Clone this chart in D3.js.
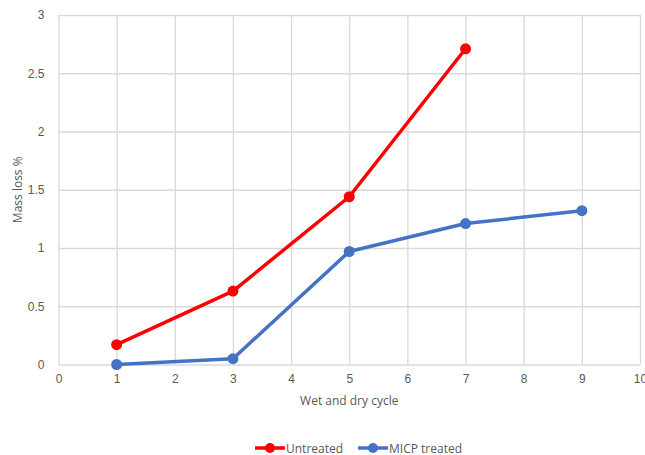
<!DOCTYPE html>
<html>
<head>
<meta charset="utf-8">
<script src="https://cdn.jsdelivr.net/npm/d3@7"></script>
<style>
  html, body { margin: 0; padding: 0; background: #fff; }
  svg { display: block; font-family: "Open Sans", "Liberation Sans", sans-serif; }
</style>
</head>
<body>
<svg id="chart" width="645" height="455"></svg>
<script>
// Wet and dry cycles and mass loss (%) per series
const untreatedCycles = [1, 3, 5, 7];
const untreatedLoss = [0.17, 0.63, 1.44, 2.71];
const micpCycles = [1, 3, 5, 7, 9];
const micpLoss = [0.0, 0.05, 0.97, 1.21, 1.32];
const xTicks = [0, 1, 2, 3, 4, 5, 6, 7, 8, 9, 10];
const yTicks = [0, 0.5, 1, 1.5, 2, 2.5, 3];
const seriesNames = ["Untreated", "MICP treated"];

const svg = d3.select("#chart");
const margin = { left: 58.5, right: 5, top: 15, bottom: 90.5 };
const W = 645, H = 455;

const x = d3.scaleLinear().domain([0, 10]).range([margin.left, W - margin.right]);
const y = d3.scaleLinear().domain([0, 3]).range([H - margin.bottom, margin.top]);

const gridColor = "#d9d9d9";
const textColor = "#595959";

// vertical gridlines
svg.append("g")
  .attr("transform", `translate(0,${y(0)})`)
  .call(d3.axisBottom(x).tickValues(xTicks).tickSize(-(y(0) - y(3))).tickFormat(d => d).tickPadding(10))
  .call(g => g.select(".domain").remove())
  .call(g => g.selectAll(".tick line").attr("stroke", gridColor).attr("stroke-width", 1.3))
  .call(g => g.selectAll(".tick text").attr("fill", textColor).attr("font-size", 12));

// horizontal gridlines
svg.append("g")
  .attr("transform", `translate(${x(0)},0)`)
  .call(d3.axisLeft(y).tickValues(yTicks).tickSize(-(x(10) - x(0))).tickFormat(d => d).tickPadding(14))
  .call(g => g.select(".domain").remove())
  .call(g => g.selectAll(".tick line").attr("stroke", gridColor).attr("stroke-width", 1.3))
  .call(g => g.selectAll(".tick text").attr("fill", textColor).attr("font-size", 12));

// axis titles
svg.append("text")
  .attr("x", (x(0) + x(10)) / 2)
  .attr("y", 405)
  .attr("text-anchor", "middle")
  .attr("fill", textColor)
  .attr("font-size", 12)
  .text("Wet and dry cycle");

svg.append("text")
  .attr("transform", `translate(22,${(y(0) + y(3)) / 2}) rotate(-90)`)
  .attr("text-anchor", "middle")
  .attr("fill", textColor)
  .attr("font-size", 12)
  .text("Mass loss %");

const series = [
  { name: seriesNames[0], color: "#ff0000", xs: untreatedCycles, ys: untreatedLoss },
  { name: seriesNames[1], color: "#4472c4", xs: micpCycles, ys: micpLoss }
];

const line = d3.line().x(d => x(d[0])).y(d => y(d[1]));

series.forEach(s => {
  const pts = s.xs.map((v, i) => [v, s.ys[i]]);
  svg.append("path")
    .datum(pts)
    .attr("d", line)
    .attr("fill", "none")
    .attr("stroke", s.color)
    .attr("stroke-width", 3.5)
    .attr("stroke-linejoin", "round");
  svg.append("g").selectAll("circle")
    .data(pts)
    .join("circle")
    .attr("cx", d => x(d[0]))
    .attr("cy", d => y(d[1]))
    .attr("r", 5.5)
    .attr("fill", s.color);
});

// legend
const legendX = [255, 358];
series.forEach((s, i) => {
  const g = svg.append("g").attr("transform", `translate(${legendX[i]},448)`);
  g.append("line").attr("x1", 0).attr("x2", 30).attr("y1", 0).attr("y2", 0)
    .attr("stroke", s.color).attr("stroke-width", 3.5);
  g.append("circle").attr("cx", 15).attr("cy", 0).attr("r", 5).attr("fill", s.color);
  g.append("text").attr("x", 31).attr("y", 4.5)
    .attr("fill", textColor).attr("font-size", 12).text(s.name);
});
</script>
</body>
</html>
